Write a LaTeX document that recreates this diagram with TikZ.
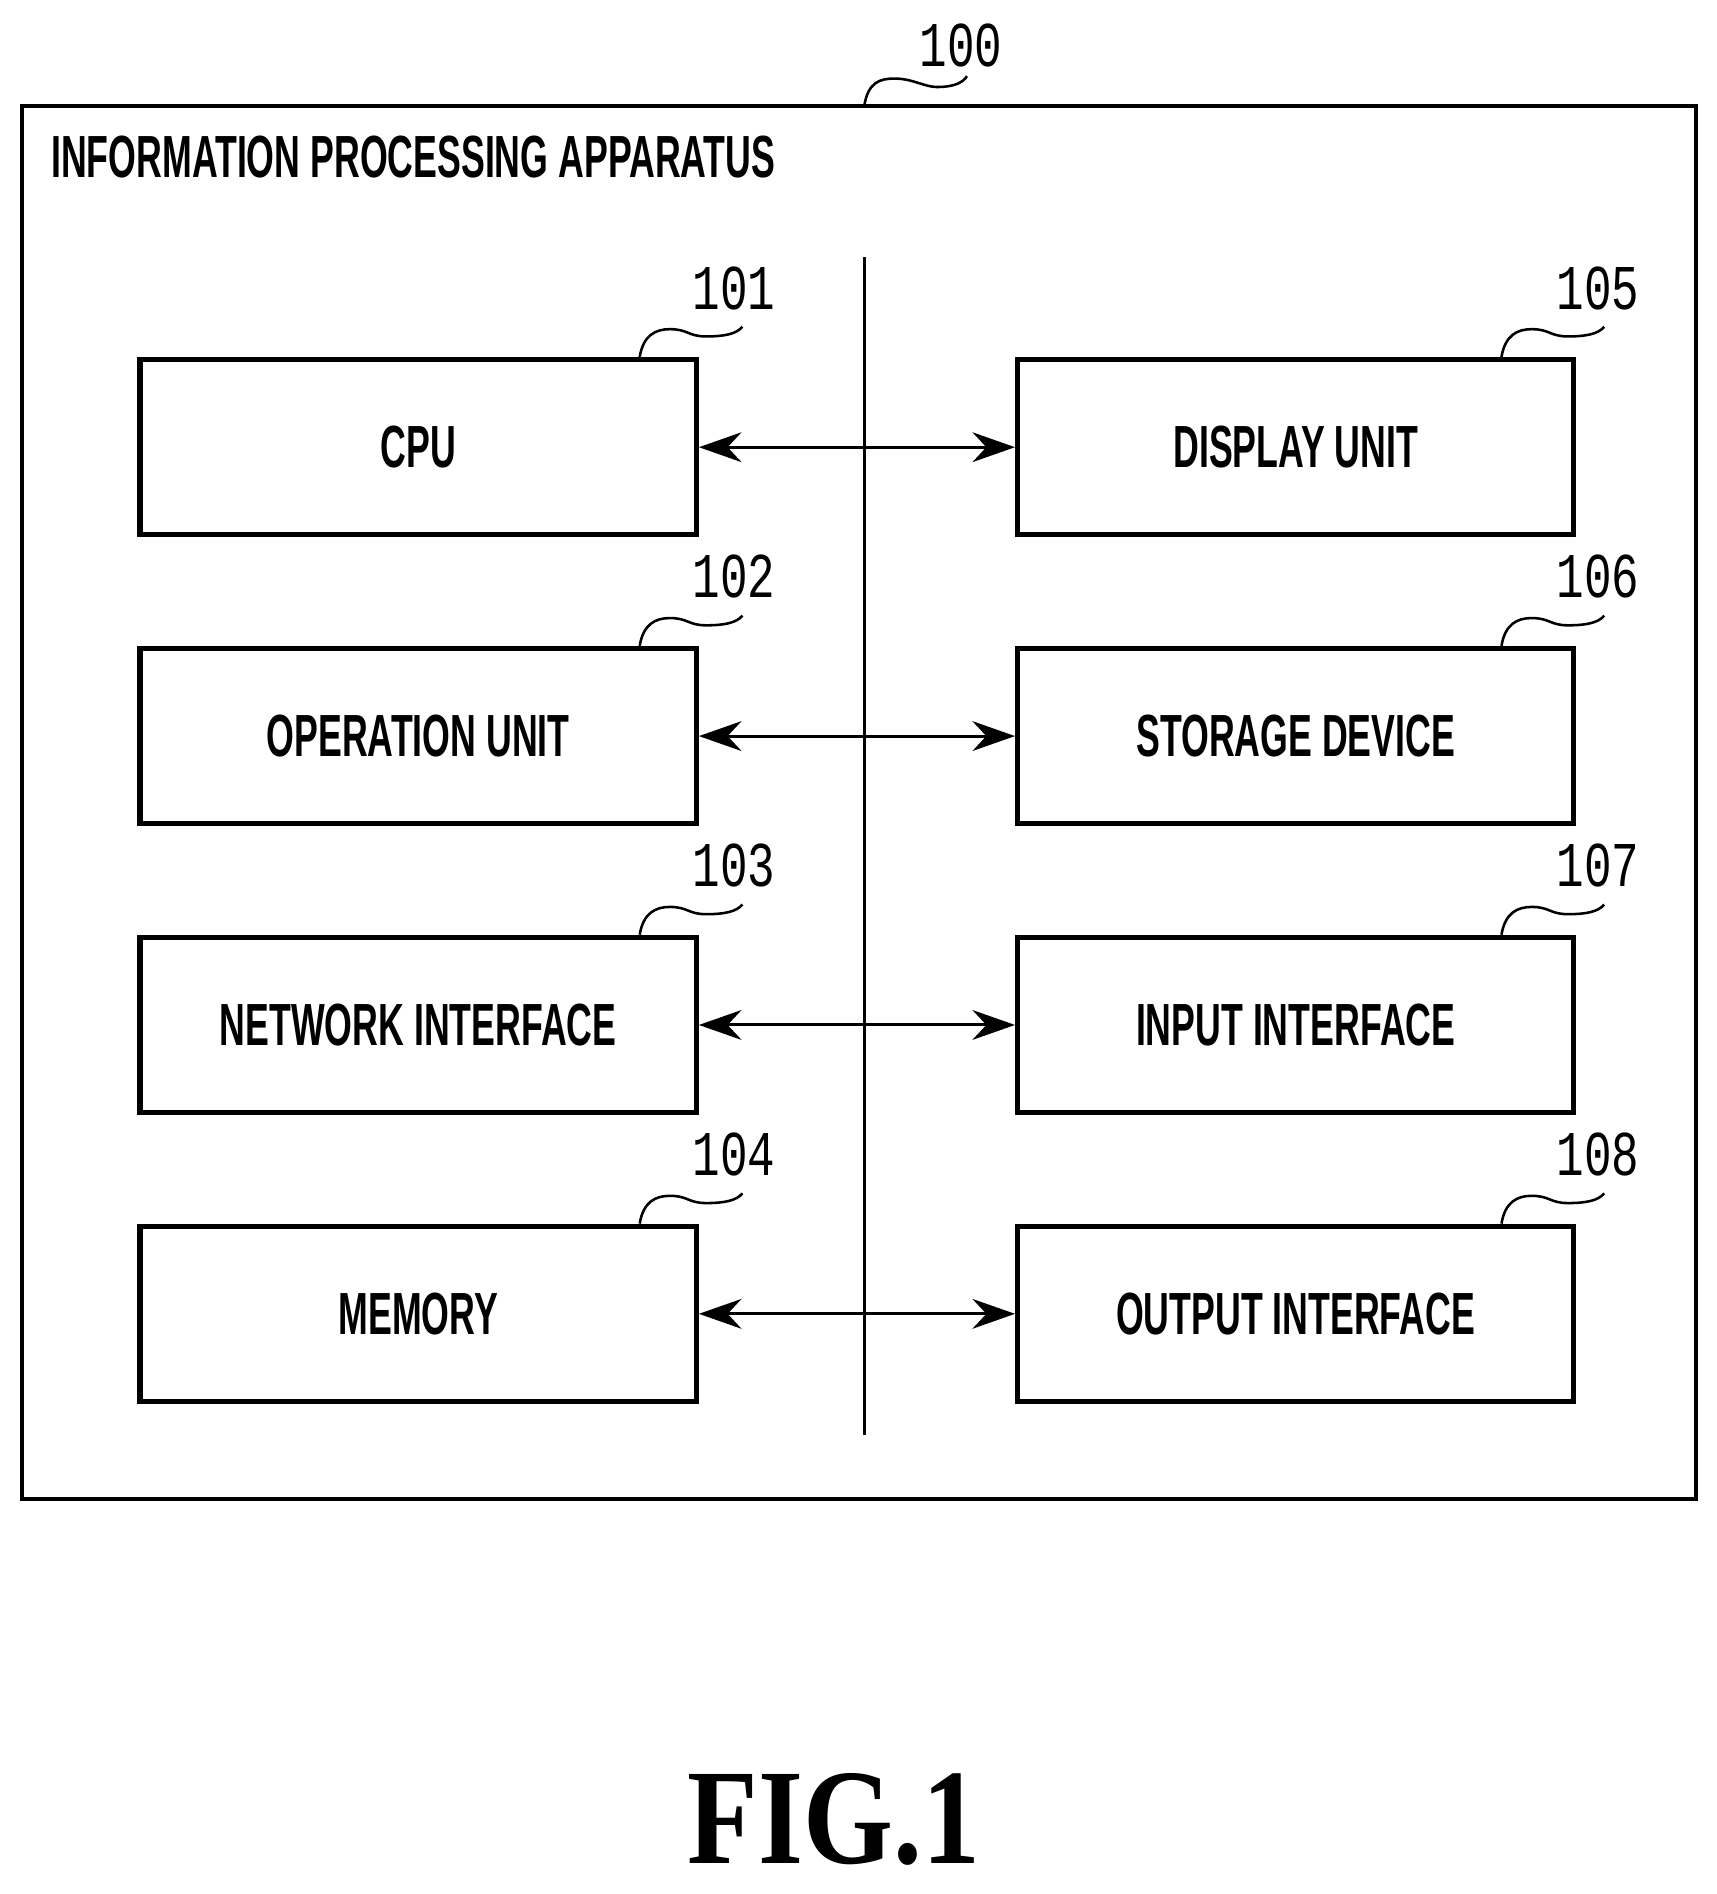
\documentclass[tikz,border=0pt]{standalone}
\usepackage{fontspec}
\setsansfont{Liberation Sans}[FakeStretch=0.6]
\setmonofont{Liberation Mono}[FakeStretch=0.72]
\setmainfont{Liberation Serif}[FakeStretch=0.85]
\usetikzlibrary{arrows.meta}
\usetikzlibrary{positioning}
\begin{document}
\begin{tikzpicture}[x=0.01cm,y=-0.01cm]
\tikzset{
  unit box/.style = {rectangle,draw,line width=1.2pt,minimum width=4.6cm,minimum height=1.45cm,font=\sffamily\bfseries\fontsize{14}{16}\selectfont},
  ref num/.style = {font=\ttfamily\fontsize{15}{17}\selectfont,inner sep=1pt},
  squig/.style = {line width=0.6pt},
  bus arrow/.style = {{Stealth[length=10pt,width=7pt]}-{Stealth[length=10pt,width=7pt]},line width=0.7pt}
}
\useasboundingbox (0,0) rectangle (1420,1567);
\draw[line width=0.9pt] (18,88) rectangle (1403,1240);
\node[anchor=west,font=\sffamily\bfseries\fontsize{14}{16}\selectfont] (title) at (30,130) {INFORMATION PROCESSING APPARATUS};
\node[ref num] (n100) at (795,38) {100};
\draw[squig] (715,88) .. controls (718,68) and (728,65) .. (740,65) .. controls (755,65) and (765,72) .. (775,72) .. controls (790,72) and (797,68) .. (800,63);
% bus
\coordinate (bt) at (715,213);
\coordinate (bb) at (715,1187);
\draw[line width=0.8pt] (bt) -- (bb);
% boxes
\node[unit box] (cpu) at (346,370) {CPU};
\node[unit box] (op) at (346,609) {OPERATION UNIT};
\node[unit box] (net) at (346,848) {NETWORK INTERFACE};
\node[unit box] (mem) at (346,1087) {MEMORY};
\node[unit box] (disp) at (1072,370) {DISPLAY UNIT};
\node[unit box] (stor) at (1072,609) {STORAGE DEVICE};
\node[unit box] (inp) at (1072,848) {INPUT INTERFACE};
\node[unit box] (outp) at (1072,1087) {OUTPUT INTERFACE};
\foreach \b/\n/\l/\t in {cpu/101/-49/29,op/102/-49/29,net/103/-49/29,mem/104/-49/29,disp/105/-62/18,stor/106/-62/18,inp/107/-62/18,outp/108/-62/18}{
  \node[ref num] (n\n) at ([shift={(\t,-57)}]\b.north east) {\n};
  \draw[squig] ([shift={(\l,0)}]\b.north east) .. controls +(3,-18) and +(-12,0) .. ++(25,-23)
     .. controls +(15,0) and +(-15,0) .. ++(30,6) .. controls +(15,0) and +(-5,6) .. ++(30,-8);
}
\foreach \a/\b in {cpu/disp,op/stor,net/inp,mem/outp}
  \draw[bus arrow] (\a.east) -- (\b.west);
\node[font=\bfseries\fontsize{32}{36}\selectfont] (fig) at (690,1505) {FIG.1};
\end{tikzpicture}
\end{document}
